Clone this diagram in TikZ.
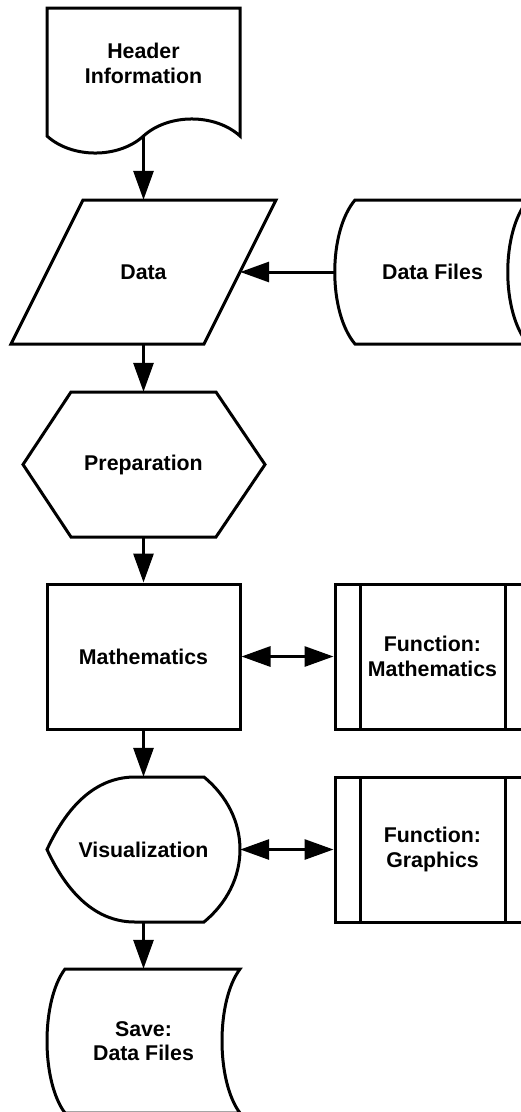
\documentclass[tikz,border=0pt]{standalone}
\usepackage{fontspec}
\setmainfont{Liberation Sans}
\usetikzlibrary{arrows.meta}
\tikzset{
  lw/.style={line width=3pt, line join=miter},
  box/.style={inner sep=0pt, align=center, font=\bfseries\fontsize{21.33}{24.5}\selectfont},
  lcol/.style={box, minimum width=193pt, minimum height=145pt},
  rcol/.style={box, minimum width=195pt, minimum height=145pt},
  arr/.style={lw, -{Triangle[length=29pt,width=20pt]}},
  darr/.style={lw, {Triangle[length=29pt,width=20pt]}-{Triangle[length=29pt,width=20pt]}},
}
\begin{document}
\begin{tikzpicture}[x=1pt,y=-1pt]
\fill[white] (0,0) rectangle (521,1112);
\useasboundingbox (0,0) rectangle (521,1112);
\clip (0,0) rectangle (521,1112);

% Header (document)
\node[box, minimum width=193pt, minimum height=111pt] (hdr) at (143.5,63.5) {Header\\Information};
\draw[lw] (47,136) -- (47,8) -- (240,8) -- (240,136)
  .. controls (215,113.3) and (168.5,113.3) .. (143.5,136)
  .. controls (118.5,158.7) and (72,158.7) .. (47,136) -- cycle;
\coordinate (hdrw) at (143.5,136);

% Data (parallelogram)
\node[lcol, minimum height=144pt] (data) at (143.5,272) {Data};
\draw[lw] (83,200) -- (276,200) -- (204,344) -- (11,344) -- cycle;

% Data Files (stored data)
\node[rcol, minimum height=144pt] (files) at (432.5,272) {Data Files};
\draw[lw] (355,200) -- (528,200) .. controls (501,232) and (501,312) .. (528,344)
  -- (355,344) .. controls (328,312) and (328,232) .. cycle;

% Preparation (hexagon)
\node[lcol] (prep) at (143.5,464.5) {Preparation};
\draw[lw] (71,392) -- (216,392) -- (265,464.5) -- (216,537) -- (71,537) -- (23,464.5) -- cycle;

% Mathematics (process)
\node[lcol, draw, lw] (math) at (143.5,656.5) {Mathematics};

% Function: Mathematics (predefined process)
\node[rcol, draw, lw] (fmath) at (432.5,656.5) {Function:\\Mathematics};
\draw[lw] (360,584) -- (360,729) (505,584) -- (505,729);

% Visualization (display)
\node[lcol] (vis) at (143.5,849.5) {Visualization};
\draw[lw] (47,849.5) .. controls (70,800) and (100,777) .. (135,777) -- (204,777)
  .. controls (227,796) and (240,822) .. (240,849.5)
  .. controls (240,877) and (227,903) .. (204,922) -- (135,922)
  .. controls (100,922) and (70,899) .. cycle;

% Function: Graphics (predefined process)
\node[rcol, draw, lw] (fgraph) at (432.5,849.5) {Function:\\Graphics};
\draw[lw] (360,777) -- (360,922) (505,777) -- (505,922);

% Save: Data Files (stored data)
\node[lcol, minimum height=144pt] (save) at (143.5,1041) {Save:\\Data Files};
\draw[lw] (65,969) -- (240,969) .. controls (216,1001) and (216,1081) .. (240,1113)
  -- (65,1113) .. controls (41,1081) and (41,1001) .. cycle;

% Connectors
\draw[arr] (hdrw) -- (data.north);
\draw[arr] (files.west) -- (data.east);
\draw[arr] (data.south) -- (prep.north);
\draw[arr] (prep.south) -- (math.north);
\draw[darr] (math.east) -- (fmath.west);
\draw[arr] (math.south) -- (vis.north);
\draw[darr] (vis.east) -- (fgraph.west);
\draw[arr] (vis.south) -- (save.north);
\end{tikzpicture}
\end{document}
